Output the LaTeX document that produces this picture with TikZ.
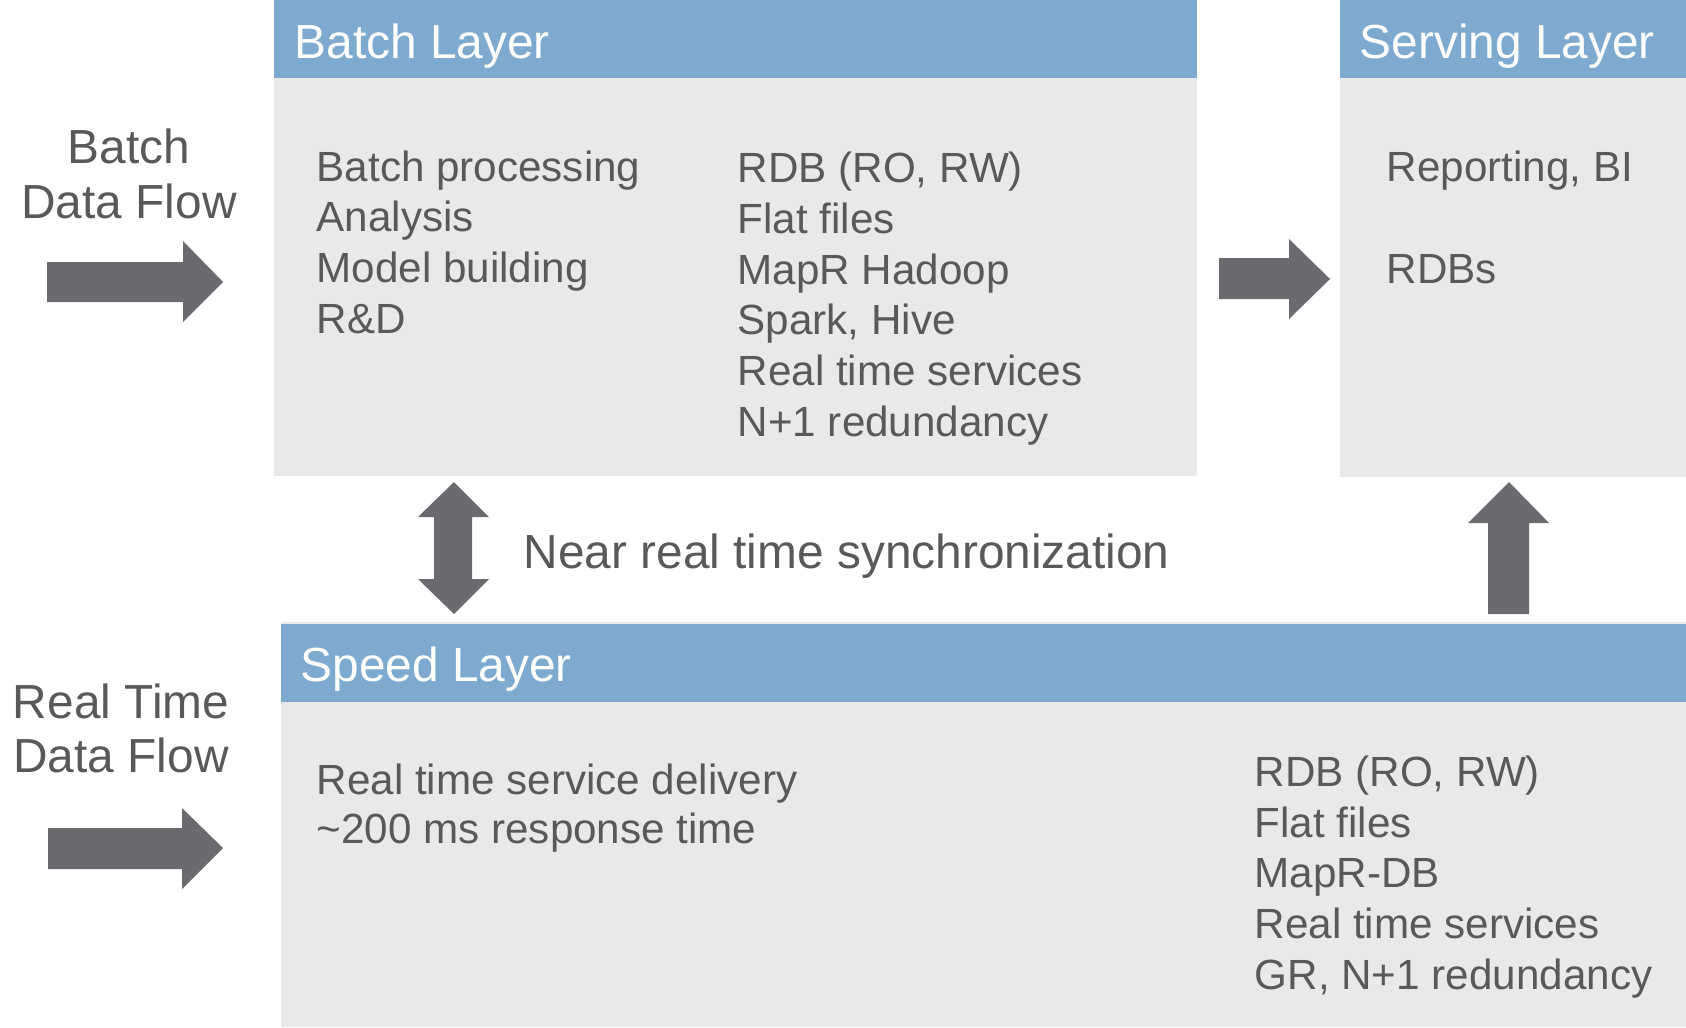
\documentclass[tikz,border=0pt]{standalone}
\usepackage{fontspec}
\setmainfont{Liberation Sans}
\usepackage{tikz}
\definecolor{headblue}{RGB}{125,170,206}
\definecolor{bodygray}{RGB}{233,233,233}
\definecolor{arrowgray}{RGB}{106,107,111}
\definecolor{textgray}{RGB}{88,89,91}
\tikzset{
    layerbody/.style={fill=bodygray},
    layerhead/.style={fill=headblue},
    blockarrow/.style={fill=arrowgray},
    headtext/.style={text=white, inner sep=0pt, anchor=base west,
        font=\fontsize{13.6}{16}\selectfont},
    bodytext/.style={text=textgray, inner sep=0pt, anchor=base west, align=left,
        font=\fontsize{12}{14.4}\selectfont},
    flowtext/.style={text=textgray, inner sep=0pt, anchor=base, align=center,
        font=\fontsize{13.6}{15.5}\selectfont},
}

\begin{document}
\begin{tikzpicture}[x=0.01cm, y=-0.01cm]
\useasboundingbox (0,0) rectangle (1686,1027);
\fill[layerbody] (274,0) rectangle (1197,476);
\fill[layerhead] (274,0) rectangle (1197,78);
\fill[layerbody] (1340,0) rectangle (1686,477);
\fill[layerhead] (1340,0) rectangle (1686,78);
\fill[layerbody] (281,622) rectangle (1686,1027);
\fill[layerhead] (281,624) rectangle (1686,702);
\node[headtext] (batchhead) at (294,58) {Batch Layer};
\node[headtext] (servinghead) at (1359,58) {Serving Layer};
\node[headtext] (speedhead) at (300,681) {Speed Layer};
\node[bodytext] (batchtasks) at (316,333) {Batch processing\\Analysis\\Model building\\R\&D};
\node[bodytext] (batchstores) at (737,436) {RDB (RO, RW)\\Flat files\\MapR Hadoop\\Spark, Hive\\Real time services\\N+1 redundancy};
\node[bodytext] (servingtasks) at (1386,283) {Reporting, BI\\[14.4pt]RDBs};
\node[bodytext, font=\fontsize{12}{13.75}\selectfont] (speedtasks) at (316,843) {Real time service delivery\\\textasciitilde200 ms response time};
\node[bodytext] (speedstores) at (1254,989) {RDB (RO, RW)\\Flat files\\MapR-DB\\Real time services\\GR, N+1 redundancy};
\node[flowtext] (batchflow) at (129,218) {Batch\\Data Flow};
\node[flowtext, font=\fontsize{13.6}{15.2}\selectfont] (realflow) at (121,772) {Real Time\\Data Flow};
\node[flowtext, anchor=base west] (sync) at (523,568) {Near real time synchronization};
\fill[blockarrow] (47,262) -- (183,262) -- (183,241) -- (223,282) -- (183,322) -- (183,302) -- (47,302) -- cycle;
\fill[blockarrow] (48,828) -- (182,828) -- (182,808) -- (223,848) -- (182,889) -- (182,869) -- (48,869) -- cycle;
\fill[blockarrow] (1219,258) -- (1289,258) -- (1289,239) -- (1330,279) -- (1289,319) -- (1289,299) -- (1219,299) -- cycle;
\fill[blockarrow] (454,482) -- (489,517) -- (472,517) -- (472,579) -- (489,579) -- (454,614) -- (418,579) -- (434,579) -- (434,517) -- (418,517) -- cycle;
\fill[blockarrow] (1509,482) -- (1549,523) -- (1529,523) -- (1529,614) -- (1488,614) -- (1488,523) -- (1468,523) -- cycle;
\end{tikzpicture}
\end{document}
